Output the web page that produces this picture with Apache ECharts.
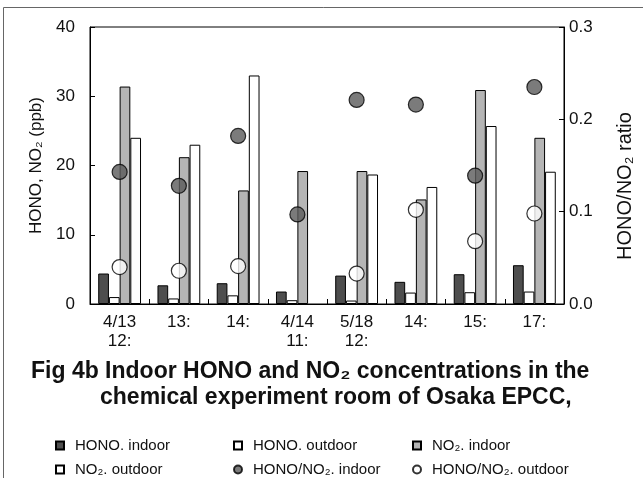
<!DOCTYPE html>
<html>
<head>
<meta charset="utf-8">
<script src="https://cdn.jsdelivr.net/npm/echarts@6/dist/echarts.min.js"></script>
<style>html,body{margin:0;padding:0;background:#fff;}#c{width:643px;height:478px;}</style>
</head>
<body>
<div id="c"></div>
<script>
var categories = ['4/13\n12:', '13:', '14:', '4/14\n11:', '5/18\n12:', '14:', '15:', '17:'];
var honoIndoor = [4.4, 2.7, 3.0, 1.8, 4.1, 3.2, 4.3, 5.6];
var honoOutdoor = [1.0, 0.8, 1.25, 0.55, 0.5, 1.65, 1.7, 1.8];
var no2Indoor = [31.4, 21.2, 16.4, 19.2, 19.2, 15.1, 30.9, 24.0];
var no2Outdoor = [24.0, 23.0, 33.0, null, 18.7, 16.9, 25.7, 19.1];
var ratioIndoor = [0.143, 0.128, 0.182, 0.097, 0.221, 0.216, 0.139, 0.235];
var ratioOutdoor = [0.040, 0.036, 0.041, null, 0.033, 0.102, 0.068, 0.098];
var leftTicks = [0, 10, 20, 30, 40];
var rightTicks = ['0.0', '0.1', '0.2', '0.3'];

var FONT = '"Liberation Sans", Arial, Helvetica, sans-serif';
var chart = echarts.init(document.getElementById('c'), null, {renderer: 'canvas'});
var barBorder = {borderColor: '#000', borderWidth: 1};
function legend(left, names) {
  return {
    orient: 'vertical', left: left, top: 438, padding: 0,
    itemWidth: 8, itemHeight: 8, itemGap: 9,
    selectedMode: false,
    textStyle: {fontFamily: FONT, fontSize: 15, color: '#111', lineHeight: 15, padding: [0, 0, 0, 6]},
    data: names
  };
}
var option = {
  animation: false,
  backgroundColor: '#fff',
  textStyle: {fontFamily: FONT},
  grid: {left: 90, right: 76, top: 27, bottom: 174, show: true, borderColor: '#000', borderWidth: 1, backgroundColor: 'transparent'},
  legend: [
    legend(55, [{name: 'HONO. indoor', icon: 'rect'}, {name: 'NO₂. outdoor', icon: 'rect'}]),
    legend(233, [{name: 'HONO. outdoor', icon: 'rect'}, {name: 'HONO/NO₂. indoor', icon: 'circle'}]),
    legend(412, [{name: 'NO₂. indoor', icon: 'rect'}, {name: 'HONO/NO₂. outdoor', icon: 'circle'}])
  ],
  xAxis: {
    type: 'category', data: categories,
    axisLine: {lineStyle: {color: '#000', width: 1}},
    axisTick: {show: true, inside: true, length: 5, lineStyle: {color: '#000'}},
    axisLabel: {fontFamily: FONT, fontSize: 17, color: '#111', margin: 9, lineHeight: 19}
  },
  yAxis: [
    {
      type: 'value', min: 0, max: 40, interval: 10, position: 'left',
      name: 'HONO, NO₂ (ppb)', nameLocation: 'middle', nameRotate: 90, nameGap: 44,
      nameTextStyle: {fontFamily: FONT, fontSize: 17, color: '#111'},
      axisLine: {show: true, lineStyle: {color: '#000', width: 1}},
      axisTick: {show: true, inside: true, length: 5, lineStyle: {color: '#000'}},
      splitLine: {show: false},
      axisLabel: {fontFamily: FONT, fontSize: 17, color: '#111', margin: 15, padding: [8, 0, 0, 0],
        formatter: function (v) { return leftTicks.indexOf(v) >= 0 ? String(v) : ''; }}
    },
    {
      type: 'value', min: 0, max: 0.3, interval: 0.1, position: 'right',
      name: 'HONO/NO₂ ratio', nameLocation: 'middle', nameRotate: 90, nameGap: 51,
      nameTextStyle: {fontFamily: FONT, fontSize: 20, color: '#111', padding: [0, 41, 0, 0]},
      axisLine: {show: true, lineStyle: {color: '#000', width: 1}},
      axisTick: {show: true, inside: true, length: 5, lineStyle: {color: '#000'}},
      splitLine: {show: false},
      axisLabel: {fontFamily: FONT, fontSize: 17, color: '#111', margin: 5, padding: [10, 0, 0, 0],
        formatter: function (v) { var i = Math.round(v * 10); return rightTicks[i] || ''; }}
    }
  ],
  series: [
    {name: 'HONO. indoor', type: 'bar', data: honoIndoor, barWidth: 10.7, barGap: '0%',
      itemStyle: Object.assign({color: '#4e4e4e'}, barBorder)},
    {name: 'HONO. outdoor', type: 'bar', data: honoOutdoor, barWidth: 10.7, barGap: '0%',
      itemStyle: Object.assign({color: '#ffffff'}, barBorder)},
    {name: 'NO₂. indoor', type: 'bar', data: no2Indoor, barWidth: 10.7, barGap: '0%',
      itemStyle: Object.assign({color: '#b5b5b5'}, barBorder)},
    {name: 'NO₂. outdoor', type: 'bar', data: no2Outdoor, barWidth: 10.7, barGap: '0%',
      itemStyle: Object.assign({color: '#ffffff'}, barBorder)},
    {name: 'HONO/NO₂. indoor', type: 'scatter', yAxisIndex: 1, data: ratioIndoor, symbolSize: 15, z: 5,
      itemStyle: {color: '#5a5a5a', borderColor: '#000', borderWidth: 1.2}},
    {name: 'HONO/NO₂. outdoor', type: 'scatter', yAxisIndex: 1, data: ratioOutdoor, symbolSize: 15, z: 5,
      itemStyle: {color: '#ffffff', borderColor: '#000', borderWidth: 1.2}}
  ],
  graphic: [
    {type: 'line', shape: {x1: 3.5, y1: 7.5, x2: 643, y2: 7.5}, style: {stroke: '#666', lineWidth: 1}},
    {type: 'line', shape: {x1: 3.5, y1: 7.5, x2: 3.5, y2: 478}, style: {stroke: '#666', lineWidth: 1}},
    {type: 'text', left: 31, top: 360, style: {text: 'Fig 4b Indoor HONO and NO₂ concentrations in the', fontFamily: FONT, fontSize: 23, fontWeight: 'bold', fill: '#111'}},
    {type: 'text', left: 100, top: 386, style: {text: 'chemical experiment room of Osaka EPCC,', fontFamily: FONT, fontSize: 23, fontWeight: 'bold', fill: '#111'}}
  ]
};
chart.setOption(option);
</script>
</body>
</html>
